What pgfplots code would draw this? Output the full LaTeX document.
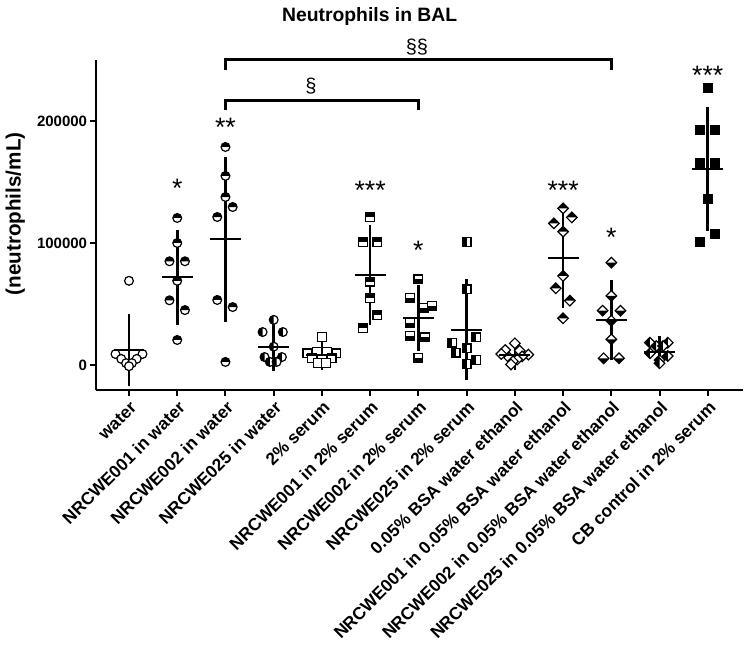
\documentclass[border=0pt]{standalone}
\usepackage{fontspec}
\setmainfont{Liberation Sans}
\usepackage{pgfplots}
\pgfplotsset{compat=1.18}

\makeatletter
\pgfdeclareplotmark{ocirc}{%
  \pgfsetfillcolor{white}%
  \pgfpathcircle{\pgfpointorigin}{\pgfplotmarksize}%
  \pgfusepathqfillstroke}
\pgfdeclareplotmark{ctop}{%
  \pgfsetfillcolor{white}\pgfpathcircle{\pgfpointorigin}{\pgfplotmarksize}\pgfusepathqfill
  \pgfsetfillcolor{black}%
  \pgfpathmoveto{\pgfqpoint{\pgfplotmarksize}{0pt}}\pgfpatharc{0}{180}{\pgfplotmarksize}\pgfpathclose\pgfusepathqfill
  \pgfpathcircle{\pgfpointorigin}{\pgfplotmarksize}\pgfusepathqstroke}
\pgfdeclareplotmark{cleft}{%
  \pgfsetfillcolor{white}\pgfpathcircle{\pgfpointorigin}{\pgfplotmarksize}\pgfusepathqfill
  \pgfsetfillcolor{black}%
  \pgfpathmoveto{\pgfqpoint{0pt}{\pgfplotmarksize}}\pgfpatharc{90}{270}{\pgfplotmarksize}\pgfpathclose\pgfusepathqfill
  \pgfpathcircle{\pgfpointorigin}{\pgfplotmarksize}\pgfusepathqstroke}
\pgfdeclareplotmark{osq}{%
  \pgfsetfillcolor{white}%
  \pgfpathrectangle{\pgfqpoint{-\pgfplotmarksize}{-\pgfplotmarksize}}{\pgfqpoint{2\pgfplotmarksize}{2\pgfplotmarksize}}%
  \pgfusepathqfillstroke}
\pgfdeclareplotmark{sqfull}{%
  \pgfsetfillcolor{black}%
  \pgfpathrectangle{\pgfqpoint{-\pgfplotmarksize}{-\pgfplotmarksize}}{\pgfqpoint{2\pgfplotmarksize}{2\pgfplotmarksize}}%
  \pgfusepathqfillstroke}
\pgfdeclareplotmark{sqtop}{%
  \pgfsetfillcolor{white}%
  \pgfpathrectangle{\pgfqpoint{-\pgfplotmarksize}{-\pgfplotmarksize}}{\pgfqpoint{2\pgfplotmarksize}{2\pgfplotmarksize}}\pgfusepathqfill
  \pgfsetfillcolor{black}%
  \pgfpathrectangle{\pgfqpoint{-\pgfplotmarksize}{0pt}}{\pgfqpoint{2\pgfplotmarksize}{\pgfplotmarksize}}\pgfusepathqfill
  \pgfpathrectangle{\pgfqpoint{-\pgfplotmarksize}{-\pgfplotmarksize}}{\pgfqpoint{2\pgfplotmarksize}{2\pgfplotmarksize}}\pgfusepathqstroke}
\pgfdeclareplotmark{sqbot}{%
  \pgfsetfillcolor{white}%
  \pgfpathrectangle{\pgfqpoint{-\pgfplotmarksize}{-\pgfplotmarksize}}{\pgfqpoint{2\pgfplotmarksize}{2\pgfplotmarksize}}\pgfusepathqfill
  \pgfsetfillcolor{black}%
  \pgfpathrectangle{\pgfqpoint{-\pgfplotmarksize}{-\pgfplotmarksize}}{\pgfqpoint{2\pgfplotmarksize}{\pgfplotmarksize}}\pgfusepathqfill
  \pgfpathrectangle{\pgfqpoint{-\pgfplotmarksize}{-\pgfplotmarksize}}{\pgfqpoint{2\pgfplotmarksize}{2\pgfplotmarksize}}\pgfusepathqstroke}
\pgfdeclareplotmark{sqleft}{%
  \pgfsetfillcolor{white}%
  \pgfpathrectangle{\pgfqpoint{-\pgfplotmarksize}{-\pgfplotmarksize}}{\pgfqpoint{2\pgfplotmarksize}{2\pgfplotmarksize}}\pgfusepathqfill
  \pgfsetfillcolor{black}%
  \pgfpathrectangle{\pgfqpoint{-\pgfplotmarksize}{-\pgfplotmarksize}}{\pgfqpoint{\pgfplotmarksize}{2\pgfplotmarksize}}\pgfusepathqfill
  \pgfpathrectangle{\pgfqpoint{-\pgfplotmarksize}{-\pgfplotmarksize}}{\pgfqpoint{2\pgfplotmarksize}{2\pgfplotmarksize}}\pgfusepathqstroke}
\def\diapath{%
  \pgfpathmoveto{\pgfqpoint{0pt}{1.2\pgfplotmarksize}}%
  \pgfpathlineto{\pgfqpoint{1.2\pgfplotmarksize}{0pt}}%
  \pgfpathlineto{\pgfqpoint{0pt}{-1.2\pgfplotmarksize}}%
  \pgfpathlineto{\pgfqpoint{-1.2\pgfplotmarksize}{0pt}}%
  \pgfpathclose}
\pgfdeclareplotmark{odia}{%
  \pgfsetfillcolor{white}\diapath\pgfusepathqfillstroke}
\pgfdeclareplotmark{dtop}{%
  \pgfsetfillcolor{white}\diapath\pgfusepathqfill
  \pgfsetfillcolor{black}%
  \pgfpathmoveto{\pgfqpoint{-1.2\pgfplotmarksize}{0pt}}%
  \pgfpathlineto{\pgfqpoint{0pt}{1.2\pgfplotmarksize}}%
  \pgfpathlineto{\pgfqpoint{1.2\pgfplotmarksize}{0pt}}\pgfpathclose\pgfusepathqfill
  \diapath\pgfusepathqstroke}
\pgfdeclareplotmark{dbot}{%
  \pgfsetfillcolor{white}\diapath\pgfusepathqfill
  \pgfsetfillcolor{black}%
  \pgfpathmoveto{\pgfqpoint{-1.2\pgfplotmarksize}{0pt}}%
  \pgfpathlineto{\pgfqpoint{0pt}{-1.2\pgfplotmarksize}}%
  \pgfpathlineto{\pgfqpoint{1.2\pgfplotmarksize}{0pt}}\pgfpathclose\pgfusepathqfill
  \diapath\pgfusepathqstroke}
\pgfdeclareplotmark{dleft}{%
  \pgfsetfillcolor{white}\diapath\pgfusepathqfill
  \pgfsetfillcolor{black}%
  \pgfpathmoveto{\pgfqpoint{0pt}{1.2\pgfplotmarksize}}%
  \pgfpathlineto{\pgfqpoint{-1.2\pgfplotmarksize}{0pt}}%
  \pgfpathlineto{\pgfqpoint{0pt}{-1.2\pgfplotmarksize}}\pgfpathclose\pgfusepathqfill
  \diapath\pgfusepathqstroke}
\makeatother

\pgfplotsset{
  pts/.style={only marks, mark=#1, mark size=3.3pt, mark options={draw=black, line width=0.9pt}},
}

\begin{document}
\begin{tikzpicture}
\path[use as bounding box] (-72pt,-197.25pt) rectangle (486.75pt,292.5pt);
\begin{axis}[
  at={(0,0)}, anchor=south west,
  scale only axis, width=485.25pt, height=247.5pt,
  xmin=-0.684, xmax=12.73, ymin=-20500, ymax=250000,
  axis x line=bottom, axis y line=left,
  axis line style={-, line width=1.5pt},
  tick style={line width=1.5pt, black},
  major tick length=4.5pt, tick align=outside,
  xtick={0,...,12}, ytick={0,100000,200000},
  scaled y ticks=false,
  yticklabels={0,100000,200000},
  xticklabels={water, NRCWE001 in water, NRCWE002 in water, NRCWE025 in water, 2\% serum, NRCWE001 in 2\% serum, NRCWE002 in 2\% serum, NRCWE025 in 2\% serum, 0.05\% BSA water ethanol, NRCWE001 in 0.05\% BSA water ethanol, NRCWE002 in 0.05\% BSA water ethanol, NRCWE025 in 0.05\% BSA water ethanol, CB control in 2\% serum},
  y tick label style={font=\fontsize{11.25}{13}\selectfont\bfseries, inner sep=2pt},
  /pgf/number format/assume math mode=true,
  x tick label style={font=\fontsize{13}{15}\selectfont\bfseries, rotate=45, anchor=east, inner sep=1pt, xshift=-1pt, yshift=-7pt},
  clip=false,
]
% points
\addplot[pts=ocirc] coordinates {(0,69000) (-0.28,9000) (0.28,9000) (-0.16,5000) (0.16,5000) (-0.06,1500) (0.06,1500) (0,-1000)};
\addplot[pts=ctop] coordinates {(1,120500) (1,100000) (0.84,85000) (1.16,85000) (1,69000) (0.84,53000) (1.16,45000) (1,20500)};
\addplot[pts=ctop] coordinates {(2,178700) (2,155000) (2,137700) (2.15,129500) (1.83,121300) (1.83,53300) (2.15,47500) (2,2500)};
\addplot[pts=cleft] coordinates {(3,37000) (2.77,27000) (3.19,27000) (3,15000) (2.81,6500) (3.17,6500) (2.92,2500) (3.06,2500)};
\addplot[pts=osq] coordinates {(4,23000) (3.7,9500) (3.9,10500) (4.1,10500) (4.3,9500) (3.8,5500) (4,5000) (4.2,5500) (3.92,1500) (4.08,1500)};
\addplot[pts=sqtop] coordinates {(5,121300) (4.85,101000) (5.15,101000) (5,68300) (5,55000) (5.15,41000) (4.85,30300)};
\addplot[pts=sqbot] coordinates {(6,70200) (5.83,54700) (6.12,46500) (6.28,48400) (5.83,34700) (5.83,23800) (6.14,22700) (6,5500)};
\addplot[pts=sqleft] coordinates {(7,101000) (7,62000) (7.2,22700) (6.7,18300) (7,13600) (6.77,10100) (7.19,4100) (7,800)};
\addplot[pts=odia] coordinates {(8,17800) (7.8,12300) (8.1,11700) (7.72,9000) (8.28,8500) (8.15,7000) (7.88,6000) (8.05,4500) (7.96,3000) (7.92,500)};
\addplot[pts=dtop] coordinates {(9,128400) (9.18,121000) (8.81,116100) (9,109300) (9,73000) (8.85,62900) (9.14,52700) (9,38300)};
\addplot[pts=dbot] coordinates {(10,83900) (10,56600) (9.82,44500) (10.19,44500) (10,36300) (10,21000) (9.84,5500) (10.16,5500)};
\addplot[pts=dleft] coordinates {(10.8,18300) (11.17,18300) (10.93,15600) (11.07,15600) (10.8,9600) (11.17,7400) (11,4000) (11,1400)};
\addplot[pts=sqfull] coordinates {(12,226800) (11.83,192600) (12.14,192600) (11.83,165300) (12.14,165800) (12,135800) (12.14,107400) (11.83,101100)};
% mean +- SD
\addplot[black, only marks, mark=-, mark size=11.6pt, mark options={line width=1.6pt},
  error bars/.cd, y dir=both, y explicit,
  error bar style={line width=2pt},
  error mark options={mark size=6pt, line width=2pt}]
 coordinates {
 (0,12000) +- (0,23000)
 (1,72000) +- (0,32500)
 (2,103000) +- (0,61000)
 (3,15000) +- (0,13000)
 (4,8200) +- (0,5500)
 (5,74000) +- (0,34500)
 (6,38500) +- (0,20500)
 (7,29000) +- (0,35000)
 (8,8000) +- (0,5500)
 (9,87800) +- (0,34500)
 (10,37000) +- (0,26500)
 (11,11000) +- (0,6000)
 (12,160700) +- (0,44100)
 };
% brackets
\addplot[black, line width=2.2pt, mark=none] coordinates {(2,241800) (2,250600) (10,250600) (10,241800)};
\addplot[black, line width=2.2pt, mark=none] coordinates {(2,209000) (2,216600) (6,216600) (6,209000)};
\node[font=\fontsize{15}{15}\selectfont] at (axis cs:3.77,228500) {§};
\node[font=\fontsize{15}{15}\selectfont] at (axis cs:5.97,260500) {§§};
% significance stars
\begin{scope}[every node/.style={font=\fontsize{20}{20}\selectfont}]
\node at (axis cs:1,144500) {*};
\node at (axis cs:2,194900) {**};
\node at (axis cs:5,143500) {***};
\node at (axis cs:6,93900) {*};
\node at (axis cs:9,143000) {***};
\node at (axis cs:10,104800) {*};
\node at (axis cs:12,237300) {***};
\end{scope}
% title and y label
\node[font=\fontsize{14.5}{16}\selectfont\bfseries] at (axis cs:4.99,285500) {Neutrophils in BAL};
\node[font=\fontsize{15.5}{17}\selectfont\bfseries, rotate=90] at (axis cs:-2.36,123800) {(neutrophils/mL)};
\end{axis}
\end{tikzpicture}
\end{document}
